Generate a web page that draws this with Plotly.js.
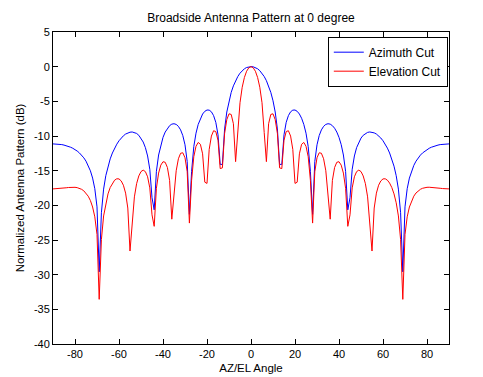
<!DOCTYPE html>
<html>
<head>
<meta charset="utf-8">
<script src="https://cdn.plot.ly/plotly-3.0.1.min.js"></script>
<style>html,body{margin:0;padding:0;background:#fff;}#chart{width:483px;height:377px;}</style>
</head>
<body>
<div id="chart"></div>
<script>
const angles = [
-90,-89,-88,-87,-86,-85,-84,-83,-82,-81,-80,-79,-78,-77,-76,-75,-74,-73,-72,-71,
-70,-69,-68,-67,-66,-65,-64,-63,-62,-61,-60,-59,-58,-57,-56,-55,-54,-53,-52,-51,
-50,-49,-48,-47,-46,-45,-44,-43,-42,-41,-40,-39,-38,-37,-36,-35,-34,-33,-32,-31,
-30,-29,-28,-27,-26,-25,-24,-23,-22,-21,-20,-19,-18,-17,-16,-15,-14,-13,-12,-11,
-10,-9,-8,-7,-6,-5,-4,-3,-2,-1,0,1,2,3,4,5,6,7,8,9,
10,11,12,13,14,15,16,17,18,19,20,21,22,23,24,25,26,27,28,29,
30,31,32,33,34,35,36,37,38,39,40,41,42,43,44,45,46,47,48,49,
50,51,52,53,54,55,56,57,58,59,60,61,62,63,64,65,66,67,68,69,
70,71,72,73,74,75,76,77,78,79,80,81,82,83,84,85,86,87,88,89,90];

const azimuthCut = [
-11.14,-11.14,-11.16,-11.19,-11.24,-11.31,-11.39,-11.49,-11.62,-11.77,
-11.95,-12.17,-12.44,-12.76,-13.15,-13.63,-14.24,-15.02,-16.07,-17.6,
-20.22,-29.59,-21.07,-17.66,-15.72,-14.35,-13.3,-12.45,-11.75,-11.18,
-10.69,-10.29,-9.97,-9.72,-9.55,-9.45,-9.42,-9.48,-9.63,-9.9,
-10.3,-10.87,-11.68,-12.88,-14.8,-18.9,-20.65,-15.1,-12.74,-11.24,
-10.2,-9.43,-8.88,-8.51,-8.29,-8.23,-8.33,-8.61,-9.12,-9.94,
-11.27,-13.67,-21.3,-15.1,-11.52,-9.59,-8.33,-7.44,-6.83,-6.44,
-6.25,-6.27,-6.51,-7.06,-8.03,-9.82,-14.1,-14.09,-8.98,-6.54,
-4.92,-3.71,-2.77,-2.02,-1.42,-0.94,-0.58,-0.3,-0.12,-0.02,
0,
-0.02,-0.12,-0.3,-0.58,-0.94,-1.42,-2.02,-2.77,-3.71,-4.92,
-6.54,-8.98,-14.09,-14.1,-9.82,-8.03,-7.06,-6.51,-6.27,-6.25,
-6.44,-6.83,-7.44,-8.33,-9.59,-11.52,-15.1,-21.3,-13.67,-11.27,
-9.94,-9.12,-8.61,-8.33,-8.23,-8.29,-8.51,-8.88,-9.43,-10.2,
-11.24,-12.74,-15.1,-20.65,-18.9,-14.8,-12.88,-11.68,-10.87,-10.3,
-9.9,-9.63,-9.48,-9.42,-9.45,-9.55,-9.72,-9.97,-10.29,-10.69,
-11.18,-11.75,-12.45,-13.3,-14.35,-15.72,-17.66,-21.07,-29.59,-20.22,
-17.6,-16.07,-15.02,-14.24,-13.63,-13.15,-12.76,-12.44,-12.17,-11.95,
-11.77,-11.62,-11.49,-11.39,-11.31,-11.24,-11.19,-11.16,-11.14,-11.14];

const elevationCut = [
-17.63,-17.62,-17.61,-17.58,-17.54,-17.51,-17.47,-17.43,-17.4,-17.39,
-17.4,-17.45,-17.54,-17.69,-17.91,-18.22,-18.68,-19.31,-20.24,-21.66,
-24.2,-33.56,-24.94,-21.53,-19.63,-18.35,-17.43,-16.79,-16.37,-16.17,
-16.19,-16.48,-17.1,-18.24,-20.39,-26.59,-22.64,-18.78,-16.88,-15.76,
-15.13,-14.92,-15.14,-15.88,-17.48,-21.37,-23.03,-17.54,-15.35,-14.2,
-13.71,-13.79,-14.54,-16.4,-22.0,-18.94,-15.01,-13.28,-12.49,-12.42,
-13.14,-15.14,-22.56,-16.38,-12.98,-11.48,-10.93,-11.2,-12.57,-16.66,
-16.84,-11.93,-10.01,-9.24,-9.36,-10.61,-14.7,-14.6,-9.63,-7.64,
-6.8,-6.89,-8.23,-13.7,-9.49,-5.2,-2.97,-1.56,-0.66,-0.16,
0,
-0.16,-0.66,-1.56,-2.97,-5.2,-9.49,-13.7,-8.23,-6.89,-6.8,
-7.64,-9.63,-14.6,-14.7,-10.61,-9.36,-9.24,-10.01,-11.93,-16.84,
-16.66,-12.57,-11.2,-10.93,-11.48,-12.98,-16.38,-22.56,-15.14,-13.14,
-12.42,-12.49,-13.28,-15.01,-18.94,-22.0,-16.4,-14.54,-13.79,-13.71,
-14.2,-15.35,-17.54,-23.03,-21.37,-17.48,-15.88,-15.14,-14.92,-15.13,
-15.76,-16.88,-18.78,-22.64,-26.59,-20.39,-18.24,-17.1,-16.48,-16.19,
-16.17,-16.37,-16.79,-17.43,-18.35,-19.63,-21.53,-24.94,-33.56,-24.2,
-21.66,-20.24,-19.31,-18.68,-18.22,-17.91,-17.69,-17.54,-17.45,-17.4,
-17.39,-17.4,-17.43,-17.47,-17.51,-17.54,-17.58,-17.61,-17.62,-17.63];

const seriesNames = ['Azimuth Cut', 'Elevation Cut'];
const xTickVals = [-80,-60,-40,-20,0,20,40,60,80];
const xTickText = ['-80','-60','-40','-20','0','20','40','60','80'];
const yTickVals = [5,0,-5,-10,-15,-20,-25,-30,-35,-40];
const yTickText = ['5','0','-5','-10','-15','-20','-25','-30','-35','-40'];

const traces = [
  {x: angles, y: azimuthCut, name: seriesNames[0], type: 'scatter', mode: 'lines',
   line: {color: '#0000ff', width: 1}},
  {x: angles, y: elevationCut, name: seriesNames[1], type: 'scatter', mode: 'lines',
   line: {color: '#ff0000', width: 1}}
];

const axisCommon = {
  showline: true, linecolor: '#000', linewidth: 1, mirror: 'ticks',
  ticks: 'inside', ticklen: 5, tickcolor: '#000', tickwidth: 1,
  showgrid: false, zeroline: false, automargin: false,
  tickfont: {family: 'Liberation Sans, Arial, sans-serif', size: 11, color: '#000'}
};

const layout = {
  width: 483, height: 377,
  margin: {l: 53, r: 34, t: 32, b: 33, pad: 0},
  paper_bgcolor: '#ffffff', plot_bgcolor: '#ffffff',
  font: {family: 'Liberation Sans, Arial, sans-serif', size: 11, color: '#000'},
  title: {text: 'Broadside Antenna Pattern at 0 degree', xref: 'paper', x: 0.5, xanchor: 'center',
          yref: 'container', y: 0.953, yanchor: 'middle',
          font: {family: 'Liberation Sans, Arial, sans-serif', size: 12, color: '#000'}},
  xaxis: Object.assign({}, axisCommon, {
    range: [-90, 90], tickmode: 'array', tickvals: xTickVals, ticktext: xTickText,
    title: {text: 'AZ/EL Angle', standoff: 4, font: {size: 11.5, color: '#000'}}
  }),
  yaxis: Object.assign({}, axisCommon, {
    range: [-40, 5], tickmode: 'array', tickvals: yTickVals, ticktext: yTickText,
    title: {text: 'Normalized Antenna Pattern (dB)', standoff: 6, font: {size: 11.5, color: '#000'}}
  }),
  showlegend: true,
  legend: {x: 0.997, xanchor: 'right', y: 0.985, yanchor: 'top',
           bgcolor: '#ffffff', bordercolor: '#000', borderwidth: 1,
           font: {family: 'Liberation Sans, Arial, sans-serif', size: 12, color: '#000'},
           tracegroupgap: 0, itemwidth: 30, entrywidth: 80, entrywidthmode: 'pixels'}
};

Plotly.newPlot('chart', traces, layout, {displayModeBar: false, staticPlot: true});
</script>
</body>
</html>
